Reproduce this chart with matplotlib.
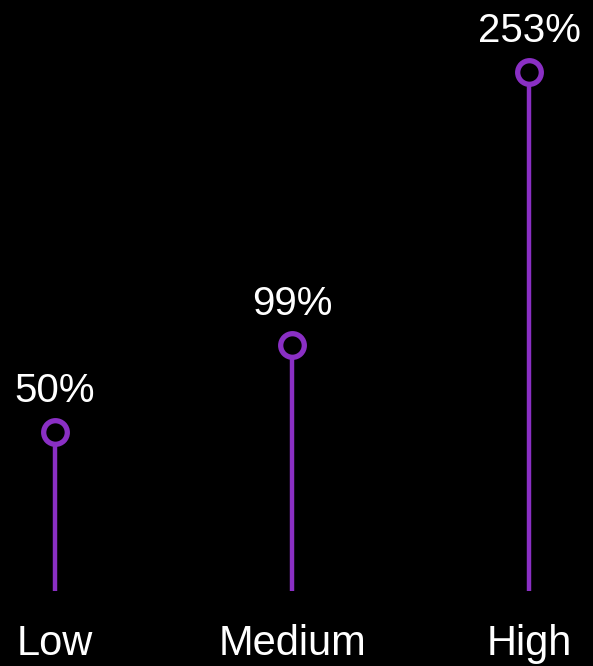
import matplotlib
matplotlib.use("Agg")
import matplotlib.pyplot as plt

# growth by tier
categories = ["Low", "Medium", "High"]
values = [50, 99, 253]

purple = "#8a2fc4"
plt.rcParams["font.family"] = ["Liberation Sans", "DejaVu Sans"]

fig = plt.figure(figsize=(5.93, 6.66), dpi=100, facecolor="black")
ax = fig.add_axes([0, 75 / 666, 1, 591 / 666])
ax.set_facecolor("black")

ymin, ymax = -39.5, 293.7
xs = list(range(len(categories)))

ax.vlines(xs, ymin, values, color=purple, linewidth=3.2, zorder=2)
ax.plot(xs, values, "o", markersize=17, markerfacecolor="black",
        markeredgecolor=purple, markeredgewidth=3.8, zorder=3)

for x, v in zip(xs, values):
    ax.annotate(f"{v}%", (x, v), xytext=(0, 21.5), textcoords="offset points",
                ha="center", va="baseline", color="white", fontsize=29)

ax.set_xlim(-55 / 237, 2 + 64 / 237)
ax.set_ylim(ymin, ymax)
ax.set_xticks(xs)
ax.set_xticklabels(categories, color="white", fontsize=30)
ax.tick_params(axis="x", length=0, pad=24)
ax.set_yticks([])
for s in ax.spines.values():
    s.set_visible(False)

fig.savefig("out.png", dpi=100, facecolor="black")
